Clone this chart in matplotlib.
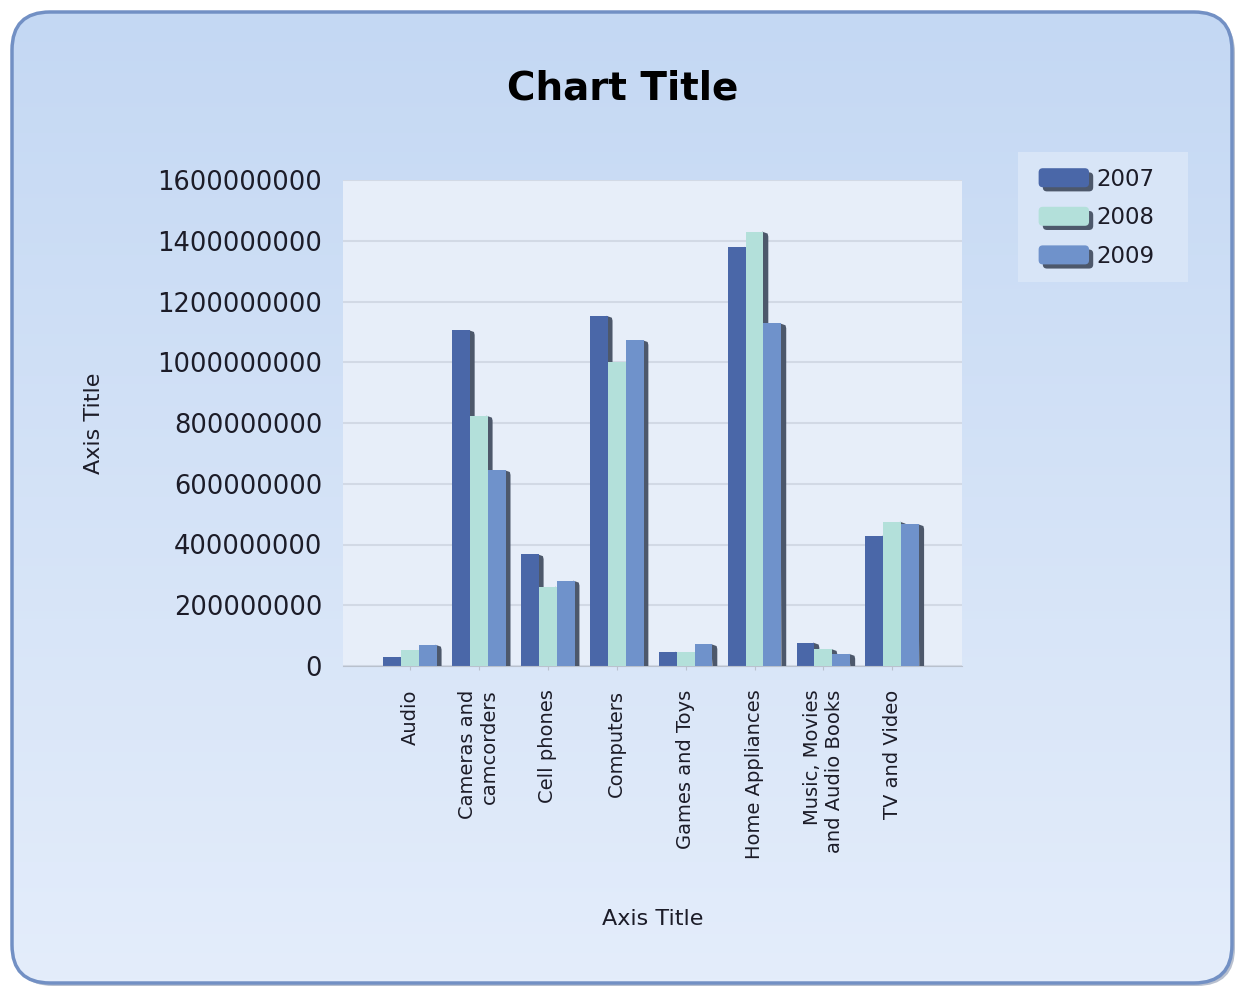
"""Grouped bar chart of yearly sales per product category (2007-2009)."""

import matplotlib
matplotlib.use("Agg")
import matplotlib.pyplot as plt
import numpy as np
from matplotlib.colors import to_rgb
from matplotlib.legend_handler import HandlerBase
from matplotlib.patches import FancyBboxPatch, Patch, Rectangle

# ---------- data -----------------------------------------------------------
categories = ["Audio", "Cameras and\ncamcorders", "Cell phones", "Computers",
              "Games and Toys", "Home Appliances", "Music, Movies\nand Audio Books",
              "TV and Video"]
years = ["2007", "2008", "2009"]
sales_2007 = [30e6, 1106e6, 368e6, 1153e6, 47e6, 1380e6, 77e6, 429e6]
sales_2008 = [53e6, 824e6, 261e6, 1000e6, 45e6, 1430e6, 56e6, 475e6]
sales_2009 = [70e6, 645e6, 281e6, 1073e6, 72e6, 1128e6, 40e6, 467e6]
y_ticks = list(range(0, 1600000001, 200000000))

colors = ["#4a67a8", "#b3e0da", "#6f92cb"]
side_color = "#4d586b"
text_color = "#1c1c28"

W, H = 1244, 993


class ShadowHandler(HandlerBase):
    """Legend swatch with the dark 3D side, like the bars."""

    def create_artists(self, legend, orig_handle, xdescent, ydescent,
                       width, height, fontsize, trans):
        back = FancyBboxPatch((-xdescent + 3, -ydescent - 3), width, height,
                              boxstyle="round,pad=0,rounding_size=3",
                              fc=side_color, ec="none", transform=trans)
        front = FancyBboxPatch((-xdescent, -ydescent), width, height,
                               boxstyle="round,pad=0,rounding_size=3",
                               fc=orig_handle.get_facecolor(), ec="none",
                               transform=trans)
        return [back, front]


fig = plt.figure(figsize=(W / 100, H / 100), dpi=100)
fig.patch.set_facecolor("white")

# ---------- rounded gradient background -----------------------------------
bg = fig.add_axes([0, 0, 1, 1], zorder=-10)
bg.set_xlim(0, W)
bg.set_ylim(H, 0)
bg.axis("off")
bg.add_patch(FancyBboxPatch((15, 15), 1220, 971,
                            boxstyle="round,pad=0,rounding_size=38",
                            fc="#9aa6bb", ec="none", alpha=0.7))
frame = FancyBboxPatch((12, 12), 1220, 971,
                       boxstyle="round,pad=0,rounding_size=38",
                       fc="none", ec="#7290c4", lw=2.5, zorder=3)
bg.add_patch(frame)
top_c, bot_c = np.array(to_rgb("#c4d8f3")), np.array(to_rgb("#e4edfb"))
t = np.linspace(0, 1, 256)[:, None, None]
grad = top_c * (1 - t) + bot_c * t
im = bg.imshow(grad, extent=(12, 1232, 983, 12), aspect="auto", origin="upper",
               zorder=1)
im.set_clip_path(frame)
# legend panel
bg.add_patch(Rectangle((1018, 152), 170, 130, fc="#d8e5f7", ec="none", zorder=2))

# ---------- plot area ------------------------------------------------------
ax = fig.add_axes([343 / W, 327 / H, 619 / W, 486 / H])
ax.set_facecolor("#e7eef9")
for s in ("top", "right", "left"):
    ax.spines[s].set_visible(False)
ax.spines["bottom"].set_color("#b9c1cd")
ax.set_axisbelow(True)
ax.grid(axis="y", color="#d2d9e5", lw=1.5)

x = np.arange(len(categories))
bw = 0.26
dx, dy = 0.07, 16e6
for k, vals in enumerate([sales_2007, sales_2008, sales_2009]):
    xs = x + (k - 1) * bw
    for xi, v in zip(xs, vals):
        xr = xi + bw / 2
        ax.fill([xr - 0.02, xr + dx - 0.01, xr + dx, xr + dx, xr],
                [v, v - dy * 0.4, v - dy, 0, 0], color=side_color, lw=0,
                zorder=2 + k)
    ax.bar(xs, vals, width=bw, color=colors[k], zorder=2.5 + k, lw=0)

ax.set_xlim(-0.97, 8.01)
ax.set_ylim(0, 1600000000)
ax.set_yticks(y_ticks)
ax.set_yticklabels([str(v) for v in y_ticks])
ax.set_xticks(x)
ax.set_xticklabels(categories, rotation=90, multialignment="right")
ax.tick_params(axis="y", length=0, pad=15, labelsize=18.5, labelcolor=text_color)
ax.tick_params(axis="x", length=3, pad=14, labelsize=14, labelcolor=text_color,
               color="#b9c1cd")

ax.set_ylabel("Axis Title", fontsize=16, color=text_color)
ax.yaxis.set_label_coords(-0.386, 0.5)
ax.set_xlabel("Axis Title", fontsize=16, color=text_color)
ax.xaxis.set_label_coords(0.5, -0.5)

fig.text(623 / W, 1 - 88 / H, "Chart Title", ha="center", va="center",
         fontsize=28, fontweight="bold", color="black")

handles = [Patch(facecolor=c) for c in colors]
leg = ax.legend(handles, years, loc="upper left",
                bbox_to_anchor=(1018 / W, 1 - 147 / H),
                bbox_transform=fig.transFigure, fontsize=16.5, frameon=False,
                handlelength=2.2, handleheight=0.9,
                handletextpad=0.3, labelspacing=0.68, borderpad=0.9,
                borderaxespad=0,
                handler_map={Patch: ShadowHandler()})
for txt in leg.get_texts():
    txt.set_color(text_color)

fig.savefig("out.png", dpi=100)
